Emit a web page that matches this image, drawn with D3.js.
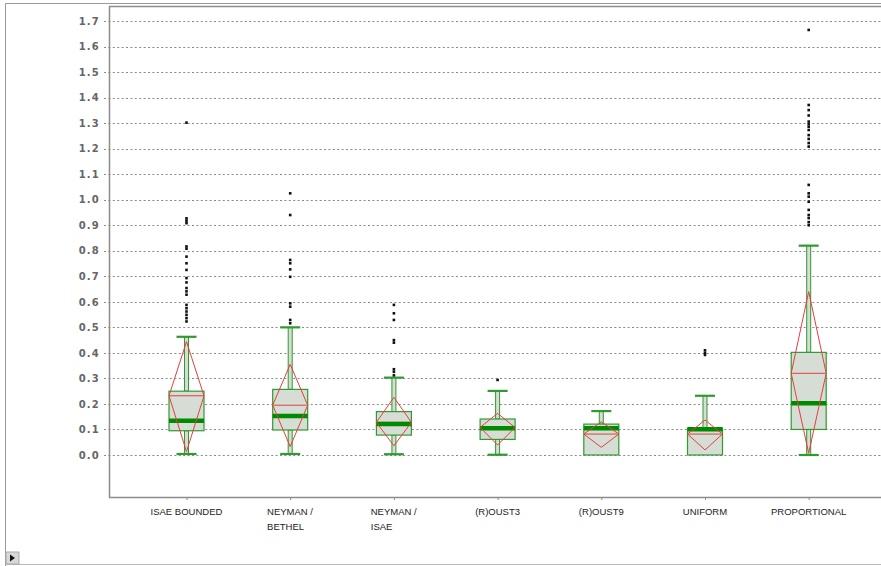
<!DOCTYPE html>
<html>
<head>
<meta charset="utf-8">
<script src="https://cdn.jsdelivr.net/npm/d3@7"></script>
<style>
  html, body { margin: 0; padding: 0; background: #fff; }
  svg { display: block; }
</style>
</head>
<body>
<svg id="chart" width="881" height="566"></svg>
<script>
const categories = ["ISAE BOUNDED", "NEYMAN / BETHEL", "NEYMAN / ISAE", "(R)OUST3", "(R)OUST9", "UNIFORM", "PROPORTIONAL"];
const categoryLines = [["ISAE BOUNDED"], ["NEYMAN /", "BETHEL"], ["NEYMAN /", "ISAE"], ["(R)OUST3"], ["(R)OUST9"], ["UNIFORM"], ["PROPORTIONAL"]];
const whiskerLow  = [0.004, 0.004, 0.003, 0.001, 0.0, 0.0, 0.0];
const q1          = [0.095, 0.098, 0.078, 0.061, 0.0, 0.0, 0.100];
const median      = [0.134, 0.153, 0.121, 0.105, 0.105, 0.101, 0.203];
const q3          = [0.250, 0.257, 0.170, 0.141, 0.121, 0.105, 0.402];
const whiskerHigh = [0.463, 0.500, 0.303, 0.251, 0.172, 0.232, 0.820];
const mean        = [0.232, 0.195, 0.128, 0.108, 0.082, 0.082, 0.320];
const diamondTop    = [0.444, 0.355, 0.226, 0.163, 0.130, 0.137, 0.640];
const diamondBottom = [0.013, 0.033, 0.036, 0.039, 0.030, 0.020, 0.007];
const outliers = [
  [1.302, 0.927, 0.918, 0.908, 0.817, 0.808, 0.777, 0.751, 0.725, 0.693, 0.676, 0.654, 0.641, 0.628, 0.588, 0.575, 0.562, 0.549, 0.536, 0.523],
  [1.025, 0.940, 0.764, 0.751, 0.727, 0.698, 0.594, 0.581, 0.529, 0.516],
  [0.588, 0.555, 0.529, 0.450, 0.440, 0.336, 0.326, 0.312],
  [0.294],
  [],
  [0.410, 0.400, 0.392],
  [1.665, 1.371, 1.351, 1.330, 1.306, 1.296, 1.286, 1.273, 1.253, 1.238, 1.222, 1.208, 1.058, 1.025, 1.012, 0.992, 0.960, 0.940, 0.928, 0.912, 0.900]
];
const yTicks = [0.0, 0.1, 0.2, 0.3, 0.4, 0.5, 0.6, 0.7, 0.8, 0.9, 1.0, 1.1, 1.2, 1.3, 1.4, 1.5, 1.6, 1.7];

const svg = d3.select("#chart");
const plot = { left: 109, top: 6, right: 882, bottom: 497 };

const y = d3.scaleLinear().domain([0, 1.7]).range([455, 21]);
const x = d3.scalePoint().domain(categories).range([186.5, 808.7]);

const green = "#2f9a2f";
const boxFill = "#d6ddd4";
const red = "#e2403f";
const boxW = 35, capW = 20, whW = 4;

// outer frame
svg.append("line").attr("x1", 5.5).attr("x2", 881).attr("y1", 3.5).attr("y2", 3.5).attr("stroke", "#999").attr("stroke-width", 1);
svg.append("line").attr("x1", 5.5).attr("x2", 5.5).attr("y1", 3.5).attr("y2", 566).attr("stroke", "#999").attr("stroke-width", 1);
svg.append("line").attr("x1", 5.5).attr("x2", 881).attr("y1", 564.5).attr("y2", 564.5).attr("stroke", "#bbb").attr("stroke-width", 1);

// little button bottom-left
svg.append("rect").attr("x", 6).attr("y", 552).attr("width", 13).attr("height", 12).attr("fill", "#d8d8d8").attr("stroke", "#aaa");
svg.append("path").attr("d", "M10,554.5 L15,558 L10,561.5 Z").attr("fill", "#111");

// grid lines (dotted)
const yAxis = d3.axisLeft(y).tickValues(yTicks).tickFormat(d3.format(".1f")).tickSize(0).tickPadding(0);
svg.append("g").selectAll("line.grid").data(yTicks).join("line")
  .attr("x1", 104).attr("x2", plot.right)
  .attr("y1", d => Math.round(y(d)) + 0.5).attr("y2", d => Math.round(y(d)) + 0.5)
  .attr("stroke", "#8a8a8a").attr("stroke-width", 1.2).attr("stroke-dasharray", "2,2.4");

// y tick labels
const gy = svg.append("g").attr("transform", "translate(98,0)").call(yAxis);
gy.select(".domain").remove();
gy.selectAll("text").attr("font-family", "DejaVu Sans, Verdana, sans-serif").attr("font-size", 10)
  .attr("font-weight", "bold").attr("fill", "#666").attr("letter-spacing", "1.2px").attr("dx", 2);

// plot border
svg.append("path").attr("d", `M${plot.left + 0.5},${plot.bottom + 0.5} L${plot.left + 0.5},${plot.top + 0.5} L${plot.right},${plot.top + 0.5}`)
  .attr("fill", "none").attr("stroke", "#8c8c8c").attr("stroke-width", 1.5);
svg.append("line").attr("x1", plot.left).attr("x2", plot.right).attr("y1", plot.bottom + 0.5).attr("y2", plot.bottom + 0.5)
  .attr("stroke", "#8c8c8c").attr("stroke-width", 1.5);

// x axis ticks and labels
const xAxis = d3.axisBottom(x).tickSize(3).tickFormat("");
const gx = svg.append("g").attr("transform", `translate(0,${plot.bottom})`).call(xAxis);
gx.select(".domain").remove();
gx.selectAll("line").attr("stroke", "#8c8c8c");

const labels = svg.append("g").selectAll("text").data(categories).join("text")
  .attr("font-family", "Liberation Sans Narrow, Liberation Sans, Arial, sans-serif")
  .attr("font-size", 9.5).attr("fill", "#222").attr("y", 515);
labels.each(function(d, i) {
  const t = d3.select(this);
  categoryLines[i].forEach((ln, j) => {
    t.append("tspan").attr("x", 0).attr("dy", j === 0 ? 0 : 15).text(ln);
  });
  const w = this.getBBox().width;
  t.attr("transform", `translate(${x(d) - w / 2},0)`);
});

// boxes
const g = svg.append("g");
categories.forEach((c, i) => {
  const cx = x(c);
  // upper whisker
  if (whiskerHigh[i] > q3[i]) {
    g.append("rect").attr("x", cx - whW / 2).attr("y", y(whiskerHigh[i])).attr("width", whW)
      .attr("height", y(q3[i]) - y(whiskerHigh[i])).attr("fill", boxFill).attr("stroke", green).attr("stroke-width", 1);
    g.append("line").attr("x1", cx - capW / 2).attr("x2", cx + capW / 2).attr("y1", y(whiskerHigh[i])).attr("y2", y(whiskerHigh[i]))
      .attr("stroke", green).attr("stroke-width", 2.2);
  }
  // lower whisker
  if (whiskerLow[i] < q1[i]) {
    g.append("rect").attr("x", cx - whW / 2).attr("y", y(q1[i])).attr("width", whW)
      .attr("height", y(whiskerLow[i]) - y(q1[i])).attr("fill", boxFill).attr("stroke", green).attr("stroke-width", 1);
    g.append("line").attr("x1", cx - capW / 2).attr("x2", cx + capW / 2).attr("y1", y(whiskerLow[i])).attr("y2", y(whiskerLow[i]))
      .attr("stroke", green).attr("stroke-width", 2.2);
  }
  // box
  g.append("rect").attr("x", cx - boxW / 2).attr("y", y(q3[i])).attr("width", boxW)
    .attr("height", y(q1[i]) - y(q3[i])).attr("fill", boxFill).attr("stroke", green).attr("stroke-width", 1.2);
  // mean line
  g.append("line").attr("x1", cx - boxW / 2 + 1).attr("x2", cx + boxW / 2 - 1).attr("y1", y(mean[i])).attr("y2", y(mean[i]))
    .attr("stroke", red).attr("stroke-width", 1);
  // median
  g.append("line").attr("x1", cx - boxW / 2).attr("x2", cx + boxW / 2).attr("y1", y(median[i])).attr("y2", y(median[i]))
    .attr("stroke", "#008a00").attr("stroke-width", 4.5);
  // diamond
  const pts = [[cx, y(diamondTop[i])], [cx + boxW / 2, y(mean[i])], [cx, y(diamondBottom[i])], [cx - boxW / 2, y(mean[i])]];
  g.append("path").attr("d", d3.line()(pts) + "Z").attr("fill", "none").attr("stroke", red).attr("stroke-width", 1);
  // outliers
  g.selectAll(null).data(outliers[i]).join("rect")
    .attr("x", cx - 1.3).attr("y", d => y(d) - 1.3).attr("width", 2.6).attr("height", 2.6).attr("fill", "#111");
});
</script>
</body>
</html>
